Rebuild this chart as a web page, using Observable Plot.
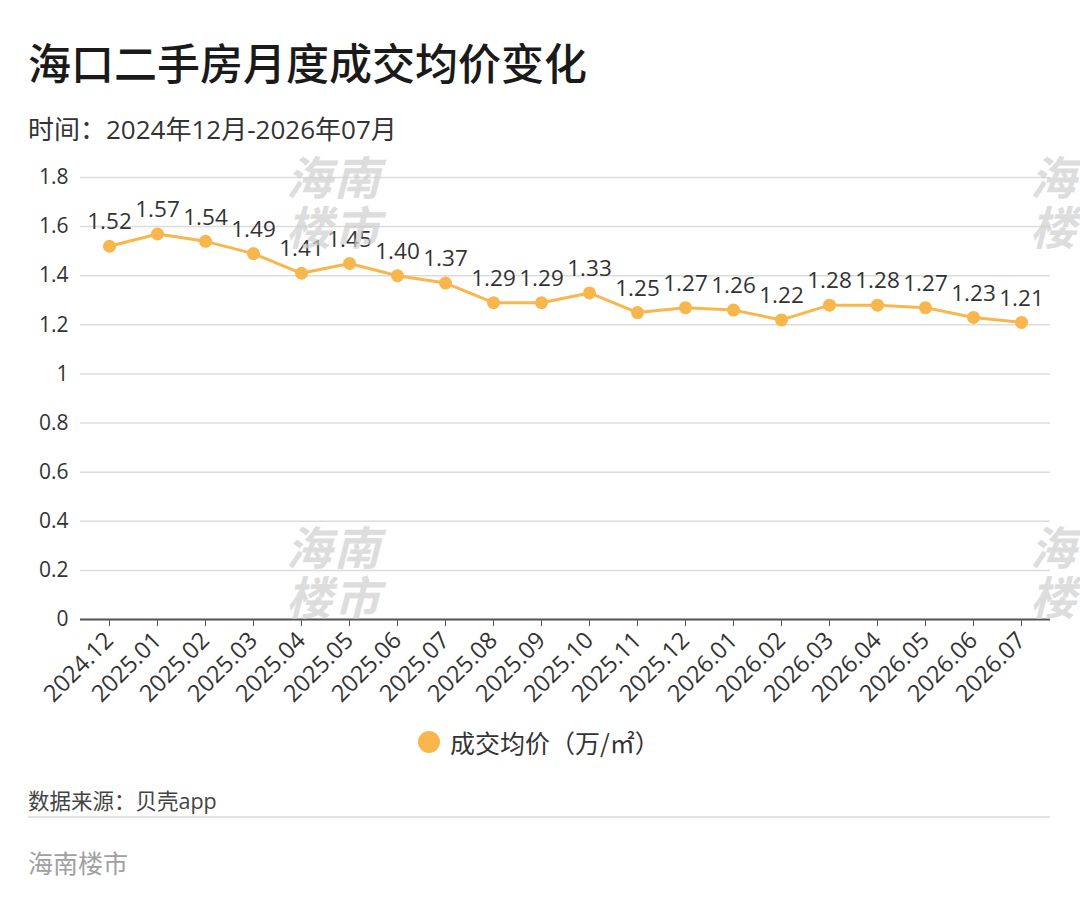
<!DOCTYPE html>
<html>
<head>
<meta charset="utf-8">
<script src="https://cdn.jsdelivr.net/npm/d3@7"></script>
<script src="https://cdn.jsdelivr.net/npm/@observablehq/plot@0.6"></script>
<style>
  html, body { margin: 0; padding: 0; background: #fff; }
  body { width: 1080px; height: 918px; position: relative; overflow: hidden;
         font-family: "Open Sans", "Noto Sans CJK SC", sans-serif; color: #222; }
  #title { position: absolute; left: 28px; top: 30px; font-size: 43px; font-weight: 500; color: #1a1a1a; font-family: "Noto Sans CJK SC", sans-serif; }
  #subtitle { position: absolute; left: 28px; top: 109px; font-size: 26px; color: #333; }
  #chart { position: absolute; left: 0; top: 150px; }
  #legend { position: absolute; left: 418px; top: 724px; font-size: 25px; color: #333; display: flex; align-items: center; font-family: "Noto Sans CJK SC", sans-serif; }
  #legend .dot { width: 22px; height: 22px; border-radius: 50%; background: #F8B64C; margin-right: 10px; }
  #source { position: absolute; left: 28px; top: 784px; font-size: 21.5px; color: #444; }
  #rule { position: absolute; left: 28px; top: 816px; width: 1022px; height: 2px; background: #e2e2e2; }
  #brand { position: absolute; left: 28px; top: 844px; font-size: 25px; color: #a0a0a0; font-family: "Noto Sans CJK SC", sans-serif; }
  .wm { position: absolute; font-size: 46px; color: #cfcfcf; opacity: 0.7; font-style: italic; font-weight: 700; line-height: 50px; letter-spacing: 2px; pointer-events: none; font-family: "Noto Sans CJK SC", sans-serif; }
</style>
</head>
<body>
<div id="title">海口二手房月度成交均价变化</div>
<div id="subtitle">时间：2024年12月-2026年07月</div>
<div id="chart"></div>
<div id="legend"><span class="dot"></span><span>成交均价（万/㎡）</span></div>
<div id="source">数据来源：贝壳app</div>
<div id="rule"></div>
<div id="brand">海南楼市</div>
<div class="wm" style="left:286px;top:150px;">海南<br>楼市</div>
<div class="wm" style="left:286px;top:520px;">海南<br>楼市</div>
<div class="wm" style="left:1030px;top:150px;">海<br>楼</div>
<div class="wm" style="left:1030px;top:520px;">海<br>楼</div>
<script>
const months = ["2024.12","2025.01","2025.02","2025.03","2025.04","2025.05","2025.06","2025.07","2025.08","2025.09","2025.10","2025.11","2025.12","2026.01","2026.02","2026.03","2026.04","2026.05","2026.06","2026.07"];
const prices = [1.52,1.57,1.54,1.49,1.41,1.45,1.40,1.37,1.29,1.29,1.33,1.25,1.27,1.26,1.22,1.28,1.28,1.27,1.23,1.21];
const yTicks = [0,0.2,0.4,0.6,0.8,1,1.2,1.4,1.6,1.8];
const color = "#F8B64C";

const data = months.map((m, i) => ({month: m, price: prices[i]}));

const chart = Plot.plot({
  width: 1080,
  height: 580,
  marginTop: 27,
  marginBottom: 111,
  marginLeft: 80,
  marginRight: 30,
  style: {fontFamily: "'Open Sans', 'Noto Sans CJK SC', sans-serif", fontSize: "20px", color: "#333", background: "transparent"},
  x: {type: "point", domain: months, padding: 0.5},
  y: {domain: [0, 1.8]},
  marks: [
    Plot.gridY(yTicks, {stroke: "#dcdcdc", strokeOpacity: 1, strokeWidth: 1.5}),
    Plot.axisY(yTicks, {tickSize: 0, tickPadding: 12, fontSize: 21, fill: "#333", tickFormat: d => String(+d.toFixed(1)), label: null}),
    Plot.ruleY([0], {stroke: "#555", strokeWidth: 2}),
    Plot.axisX({tickSize: 7, tickRotate: -45, tickPadding: 10, fontSize: 23.5, fill: "#333", stroke: "#555", label: null}),
    Plot.line(data, {x: "month", y: "price", stroke: color, strokeWidth: 3}),
    Plot.dot(data, {x: "month", y: "price", fill: color, r: 6.5}),
    Plot.text(data, {x: "month", y: "price", text: d => d.price.toFixed(2), dy: -24, fontSize: 22.5, fill: "#333"})
  ]
});
document.getElementById("chart").appendChild(chart);
</script>
</body>
</html>
